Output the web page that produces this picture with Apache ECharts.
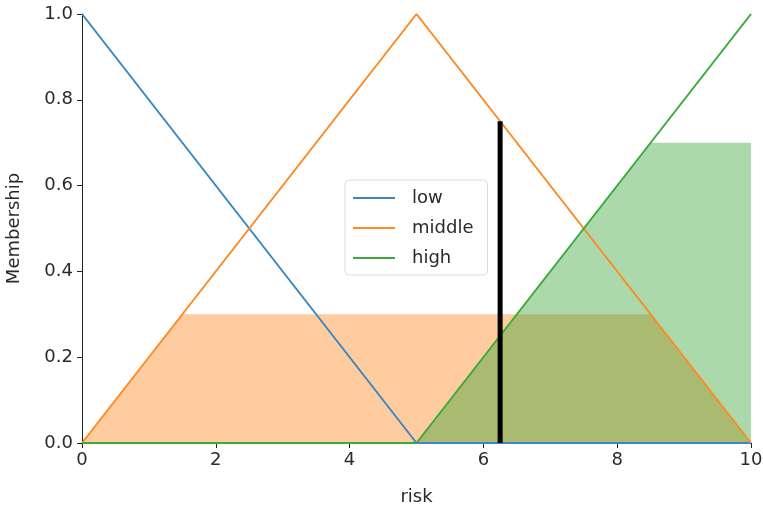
<!DOCTYPE html>
<html>
<head>
<meta charset="utf-8">
<script src="https://cdn.jsdelivr.net/npm/echarts@6/dist/echarts.min.js"></script>
<style>html,body{margin:0;padding:0;background:#fff}#c{width:763px;height:510px}</style>
</head>
<body>
<div id="c"></div>
<script>
// Membership functions over "risk"
var riskX = [0, 5, 10];
var lowY = [1, 0, 0];
var middleY = [0, 1, 0];
var highY = [0, 0, 1];
// Clipped (activated) membership areas
var middleFillX = [0, 1.5, 8.5, 10];
var middleFillY = [0, 0.3, 0.3, 0];
var highFillX = [5, 8.5, 10, 10];
var highFillY = [0, 0.7, 0.7, 0];
// Defuzzified output marker
var crispX = [6.25, 6.25];
var crispY = [0, 0.75];
var xTicks = [0, 2, 4, 6, 8, 10];
var yTicks = [0, 0.2, 0.4, 0.6, 0.8, 1.0];

function pairs(xs, ys) { return xs.map(function (x, i) { return [x, ys[i]]; }); }

var BLUE = '#3a87c2', ORANGE = '#ff8a22', GREEN = '#3aaa3a';
var FILL_ORANGE = '#ff7f0e', FILL_GREEN = '#2ca02c';
var font = 'DejaVu Sans';
var TXT = '#2a2a2a';

var chart = echarts.init(document.getElementById('c'), null, {renderer: 'canvas'});
chart.setOption({
  animation: false,
  grid: {left: 82, right: 12, top: 14, bottom: 67, containLabel: false, outerBoundsMode: 'none'},
  legend: {
    orient: 'vertical', left: 345, top: 180,
    data: ['low', 'middle', 'high'],
    icon: 'rect', itemWidth: 42, itemHeight: 2, itemGap: 10,
    padding: [8, 14, 7, 8],
    borderColor: '#dcdcdc', borderWidth: 1, borderRadius: 4,
    backgroundColor: 'rgba(255,255,255,0.8)',
    textStyle: {fontFamily: font, fontSize: 18, lineHeight: 20, color: TXT, padding: [0, 0, 0, 12]}
  },
  xAxis: {
    type: 'value', min: 0, max: 10, interval: 2,
    name: 'risk', nameLocation: 'middle', nameGap: 45,
    nameTextStyle: {fontFamily: font, fontSize: 18, color: TXT},
    axisLine: {show: true, onZero: false, lineStyle: {color: '#222', width: 1}},
    axisTick: {show: true, length: 5, lineStyle: {color: '#222'}},
    axisLabel: {fontFamily: font, fontSize: 18, color: TXT, margin: 8},
    splitLine: {show: false}
  },
  yAxis: {
    type: 'value', min: 0, max: 1, interval: 0.2,
    name: 'Membership', nameLocation: 'middle', nameGap: 59,
    nameTextStyle: {fontFamily: font, fontSize: 18, color: TXT},
    axisLine: {show: true, lineStyle: {color: '#222', width: 1}},
    axisTick: {show: true, length: 5, lineStyle: {color: '#222'}},
    axisLabel: {fontFamily: font, fontSize: 18, color: TXT, margin: 9,
      formatter: function (v) { return v.toFixed(1); }},
    splitLine: {show: false}
  },
  series: [
    {name: 'middleFill', type: 'line', data: pairs(middleFillX, middleFillY), symbol: 'none',
      lineStyle: {width: 0}, areaStyle: {color: FILL_ORANGE, opacity: 0.4, origin: 'start'}, z: 1, silent: true},
    {name: 'highFill', type: 'line', data: pairs(highFillX, highFillY), symbol: 'none',
      lineStyle: {width: 0}, areaStyle: {color: FILL_GREEN, opacity: 0.4, origin: 'start'}, z: 1, silent: true},
    {name: 'low', type: 'line', data: pairs(riskX, lowY), symbol: 'none',
      itemStyle: {color: BLUE}, lineStyle: {color: BLUE, width: 2}, z: 3},
    {name: 'middle', type: 'line', data: pairs(riskX, middleY), symbol: 'none',
      itemStyle: {color: ORANGE}, lineStyle: {color: ORANGE, width: 2}, z: 3},
    {name: 'high', type: 'line', data: pairs(riskX, highY), symbol: 'none',
      itemStyle: {color: GREEN}, lineStyle: {color: GREEN, width: 2}, z: 3},
    {name: 'crisp', type: 'line', data: pairs(crispX, crispY), symbol: 'none',
      lineStyle: {color: '#000', width: 5}, z: 4}
  ]
});
</script>
</body>
</html>
